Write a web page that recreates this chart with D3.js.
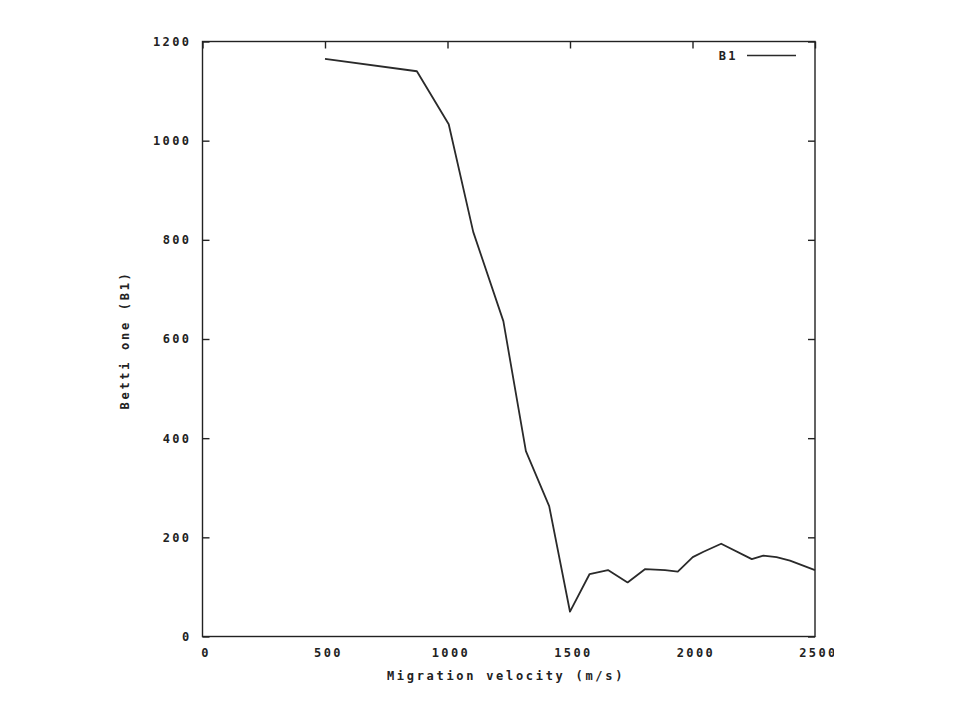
<!DOCTYPE html>
<html>
<head>
<meta charset="utf-8">
<script src="https://cdn.jsdelivr.net/npm/d3@7"></script>
<style>
  html, body { margin: 0; padding: 0; background: #fff; }
  text { font-family: "DejaVu Sans Mono", "Liberation Mono", monospace; font-size: 12px; font-weight: bold; letter-spacing: 2.4px; fill: #222; }
  text.title { letter-spacing: 2.7px; }
</style>
</head>
<body>
<svg id="chart" width="960" height="720"></svg>
<script>
// Data
const velocities = [500, 875, 1005, 1105, 1228, 1320, 1415, 1500, 1580, 1655, 1735, 1807, 1888, 1940, 2001, 2045, 2117, 2242, 2289, 2343, 2398, 2500];
const bettiOne   = [1165, 1140, 1033, 816, 636, 374, 263, 50, 126, 134, 109, 136, 134, 131, 160, 171, 187, 156, 163, 160, 153, 134];
const xTicks = [0, 500, 1000, 1500, 2000, 2500];
const yTicks = [0, 200, 400, 600, 800, 1000, 1200];
const seriesName = "B1";
const xTitle = "Migration velocity (m/s)";
const yTitle = "Betti one (B1)";

const svg = d3.select("#chart");
const L = 202.5, R = 815, T = 41.5, B = 636.5;
const x = d3.scaleLinear().domain([0, 2500]).range([L, R]);
const y = d3.scaleLinear().domain([0, 1200]).range([B, T]);
const tickLen = 7;

// clip for the cut-off right tick label as in reference
svg.append("defs").append("clipPath").attr("id", "pageclip")
  .append("rect").attr("x", 0).attr("y", 0).attr("width", 834).attr("height", 720);

// Frame
svg.append("rect").attr("x", L).attr("y", T).attr("width", R - L).attr("height", B - T)
  .attr("fill", "none").attr("stroke", "#222").attr("stroke-width", 1.4);

// Axes (inward ticks, mirrored)
const axB = svg.append("g").attr("transform", `translate(0,${B})`)
  .call(d3.axisBottom(x).tickValues(xTicks).tickSize(-tickLen).tickPadding(12).tickFormat(d3.format("d")));
const axT = svg.append("g").attr("transform", `translate(0,${T})`)
  .call(d3.axisTop(x).tickValues(xTicks).tickSize(-tickLen).tickFormat(""));
const axL = svg.append("g").attr("transform", `translate(${L},0)`)
  .call(d3.axisLeft(y).tickValues(yTicks).tickSize(-tickLen).tickPadding(11).tickFormat(d3.format("d")));
const axR = svg.append("g").attr("transform", `translate(${R},0)`)
  .call(d3.axisRight(y).tickValues(yTicks).tickSize(-tickLen).tickFormat(""));

[axB, axT, axL, axR].forEach(g => {
  g.select(".domain").remove();
  g.selectAll(".tick line").attr("stroke", "#222").attr("stroke-width", 1.4);
  g.selectAll(".tick text").attr("font-family", null).attr("font-size", null).attr("fill", "#222");
});
axB.attr("clip-path", "url(#pageclip)");
axB.selectAll(".tick text").attr("dx", "3px");

// Series line
const pts = velocities.map((v, i) => [v, bettiOne[i]]);
svg.append("path").datum(pts)
  .attr("fill", "none").attr("stroke", "#2a2a2a").attr("stroke-width", 1.8)
  .attr("stroke-linejoin", "round")
  .attr("d", d3.line().x(d => x(d[0])).y(d => y(d[1])));

// Legend
svg.append("text").attr("x", 738).attr("y", 60).attr("text-anchor", "end").text(seriesName);
svg.append("line").attr("x1", 747).attr("x2", 796).attr("y1", 55.5).attr("y2", 55.5)
  .attr("stroke", "#2a2a2a").attr("stroke-width", 1.6);

// Axis titles
svg.append("text").attr("class", "title").attr("x", 506).attr("y", 680).attr("text-anchor", "middle").text(xTitle);
svg.append("text").attr("class", "title").attr("transform", `translate(129,340) rotate(-90)`).attr("text-anchor", "middle").text(yTitle);
</script>
</body>
</html>
